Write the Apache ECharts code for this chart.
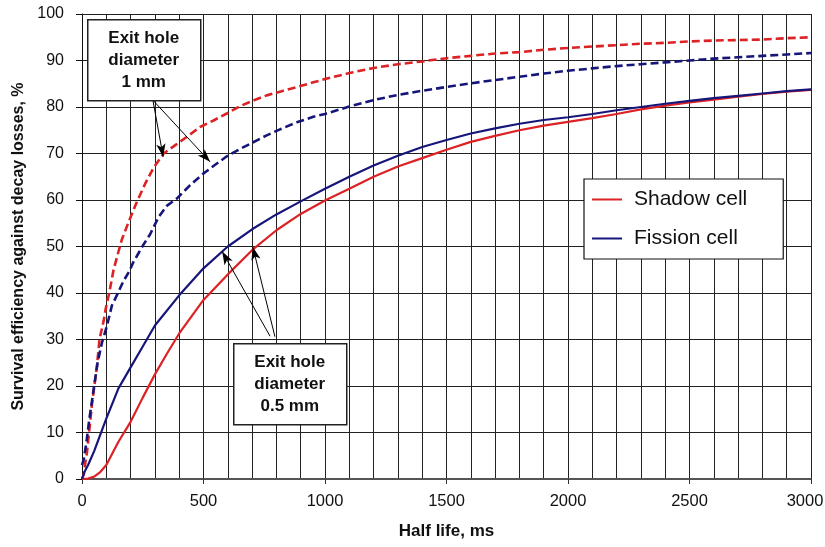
<!DOCTYPE html>
<html>
<head>
<meta charset="utf-8">
<script src="https://cdn.jsdelivr.net/npm/echarts@6/dist/echarts.min.js"></script>
<style>
  html, body { margin: 0; padding: 0; background: #fff; }
  #chart { width: 825px; height: 547px; }
</style>
</head>
<body>
<div id="chart"></div>
<script>
// [half life ms, survival %]
const shadowDashed = [[0,0],[7,1],[15,4],[20,5.5],[27,9],[35,13],[41,16],[52,20.5],[61,24],[72,30],[89,34],[99,37],[112,40],[130,45],[148,48.5],[164,51.5],[192,55.3],[226,59.6],[260,63.5],[295,67],[336,70],[384,71.8],[432,73.6],[486,75.7],[541,77.1],[596,78.6],[651,80.2],[705,81.4],[760,82.5],[815,83.3],[884,84.3],[952,85.3],[1000,86],[1100,87.3],[1200,88.4],[1300,89.2],[1400,89.8],[1500,90.5],[1600,91],[1700,91.5],[1800,91.8],[1900,92.3],[2000,92.7],[2100,93],[2200,93.3],[2300,93.6],[2400,93.8],[2500,94.1],[2600,94.3],[2700,94.4],[2800,94.5],[2900,94.8],[3000,95]]
const fissionDashed = [[0,3],[7,4.2],[18,7.8],[30,12.8],[48,19.3],[64,25],[82,29.3],[103,33],[123,37.3],[148,40],[171,42.6],[195,44.7],[212,46.7],[233,48.6],[253,50.4],[281,52.7],[315,56.3],[350,58.8],[390,60.3],[445,63.2],[500,65.7],[541,67.3],[596,69.4],[651,71],[700,72.3],[760,73.9],[815,75.2],[884,76.7],[952,77.9],[1000,78.5],[1100,80.1],[1200,81.5],[1300,82.6],[1400,83.5],[1500,84.3],[1600,85.1],[1700,85.8],[1800,86.5],[1900,87.2],[2000,87.8],[2100,88.3],[2200,88.8],[2300,89.2],[2400,89.6],[2500,90],[2600,90.4],[2700,90.7],[2800,91],[2900,91.3],[3000,91.6]]
const shadowSolid = [[0,0],[25,0.1],[50,0.5],[75,1.5],[100,3],[150,8],[200,12.3],[250,17.5],[300,22.5],[350,27],[400,31.3],[500,38.5],[600,44],[700,49.2],[800,53.5],[900,57],[1000,59.9],[1100,62.4],[1200,65],[1300,67.2],[1400,69],[1500,70.8],[1600,72.5],[1700,73.8],[1800,75],[1900,76],[2000,76.8],[2100,77.6],[2200,78.5],[2300,79.5],[2400,80.3],[2500,81],[2600,81.6],[2700,82.2],[2800,82.8],[2900,83.3],[3000,83.7]]
const fissionSolid = [[0,0],[10,1.5],[25,3],[50,6],[75,9.5],[100,13],[150,19.5],[200,24],[250,28.5],[300,33],[400,39.5],[500,45.3],[600,50],[700,53.7],[800,56.9],[900,59.7],[1000,62.4],[1100,65],[1200,67.4],[1300,69.5],[1400,71.4],[1500,72.9],[1600,74.3],[1700,75.4],[1800,76.4],[1900,77.2],[2000,77.8],[2100,78.5],[2200,79.3],[2300,80],[2400,80.7],[2500,81.3],[2600,81.9],[2700,82.4],[2800,82.9],[2900,83.4],[3000,83.8]]

// arrows from the label boxes to the curves
const arrows1mm = [[[292,81.4],[334,69.3]],[[293,81.4],[527,68.2]]]
const arrows05mm = [[[774,30.7],[577,48.9]],[[794,30.6],[703,49.9]]]

const red = '#dc2224'
const navy = '#16167a'
const font = 'Liberation Sans, Arial, sans-serif'

const chart = echarts.init(document.getElementById('chart'))

function arrowData (list) {
  return list.map(a => [{ coord: a[0] }, { coord: a[1] }])
}

function lineSeries (name, data, color, dashed) {
  return {
    name: name,
    type: 'line',
    data: data,
    showSymbol: false,
    symbol: 'none',
    smooth: false,
    silent: true,
    z: 3,
    lineStyle: { color: color, width: dashed ? 2.6 : 2.2, type: dashed ? [8, 4] : 'solid' },
    itemStyle: { color: color }
  }
}

const series = [
  lineSeries('Shadow cell 1 mm', shadowDashed, red, true),
  lineSeries('Fission cell 1 mm', fissionDashed, navy, true),
  lineSeries('Shadow cell', shadowSolid, red, false),
  lineSeries('Fission cell', fissionSolid, navy, false)
]
series[3].markLine = {
  silent: true,
  animation: false,
  symbol: ['none', 'arrow'],
  symbolSize: [7, 13],
  label: { show: false },
  lineStyle: { color: '#000', width: 1, type: 'solid' },
  emphasis: { disabled: true },
  data: arrowData(arrows1mm).concat(arrowData(arrows05mm))
}

function labelBox (left, top, text) {
  return {
    type: 'group',
    left: left,
    top: top,
    z: 50,
    children: [
      {
        type: 'rect',
        z: 50,
        shape: { x: 0, y: 0, width: 113, height: 81 },
        style: { fill: '#fff', stroke: '#222', lineWidth: 1.5 }
      },
      {
        type: 'text',
        z: 51,
        x: 56, y: 41,
        style: {
          text: text,
          font: 'bold 17px ' + font,
          fill: '#111',
          align: 'center',
          verticalAlign: 'middle',
          lineHeight: 22
        }
      }
    ]
  }
}

chart.setOption({
  animation: false,
  grid: { left: 82, right: 14, top: 14, bottom: 68, outerBoundsMode: 'none' },
  legend: {
    data: ['Shadow cell', 'Fission cell'],
    orient: 'vertical',
    left: 584,
    top: 179,
    icon: 'rect',
    itemWidth: 30,
    itemHeight: 2,
    itemGap: 18,
    padding: [10, 36, 10, 8],
    backgroundColor: '#fff',
    borderColor: '#111',
    borderWidth: 1.2,
    selectedMode: false,
    textStyle: { fontFamily: font, fontSize: 21, color: '#111', padding: [0, 0, 0, 7] }
  },
  xAxis: {
    type: 'value',
    min: 0,
    max: 3000,
    interval: 500,
    name: 'Half life, ms',
    nameLocation: 'middle',
    nameGap: 44,
    nameTextStyle: { fontFamily: font, fontSize: 17, fontWeight: 'bold', color: '#111' },
    axisLine: { show: true, onZero: false, lineStyle: { color: '#555', width: 2 } },
    axisTick: { show: true, inside: false, length: 5, lineStyle: { color: '#333' } },
    minorTick: { show: false, splitNumber: 5 },
    minorSplitLine: { show: true, lineStyle: { color: '#222', width: 1 } },
    splitLine: { show: true, lineStyle: { color: '#222', width: 1 } },
    axisLabel: {
      fontFamily: font, fontSize: 16.5, color: '#111', margin: 14,
      // last label nudged left so it stays inside the page
      formatter: v => v === 3000 ? '{last|' + v + '}' : String(v),
      rich: { last: { fontFamily: font, fontSize: 16.5, color: '#111', padding: [0, 12, 0, 0] } }
    }
  },
  yAxis: {
    type: 'value',
    min: 0,
    max: 100,
    interval: 10,
    name: 'Survival efficiency against decay losses, %',
    nameLocation: 'middle',
    nameGap: 52,
    nameTextStyle: { fontFamily: font, fontSize: 16, fontWeight: 'bold', color: '#111' },
    axisLine: { show: true, lineStyle: { color: '#111', width: 1 } },
    axisTick: { show: true, inside: false, length: 6, lineStyle: { color: '#111' } },
    splitLine: { show: true, lineStyle: { color: '#222', width: 1 } },
    axisLabel: { fontFamily: font, fontSize: 16, color: '#111', margin: 18 }
  },
  graphic: [
    labelBox(87, 19, 'Exit hole\ndiameter\n1 mm'),
    labelBox(233, 343, 'Exit hole\ndiameter\n0.5 mm')
  ],
  series: series
})
</script>
</body>
</html>
